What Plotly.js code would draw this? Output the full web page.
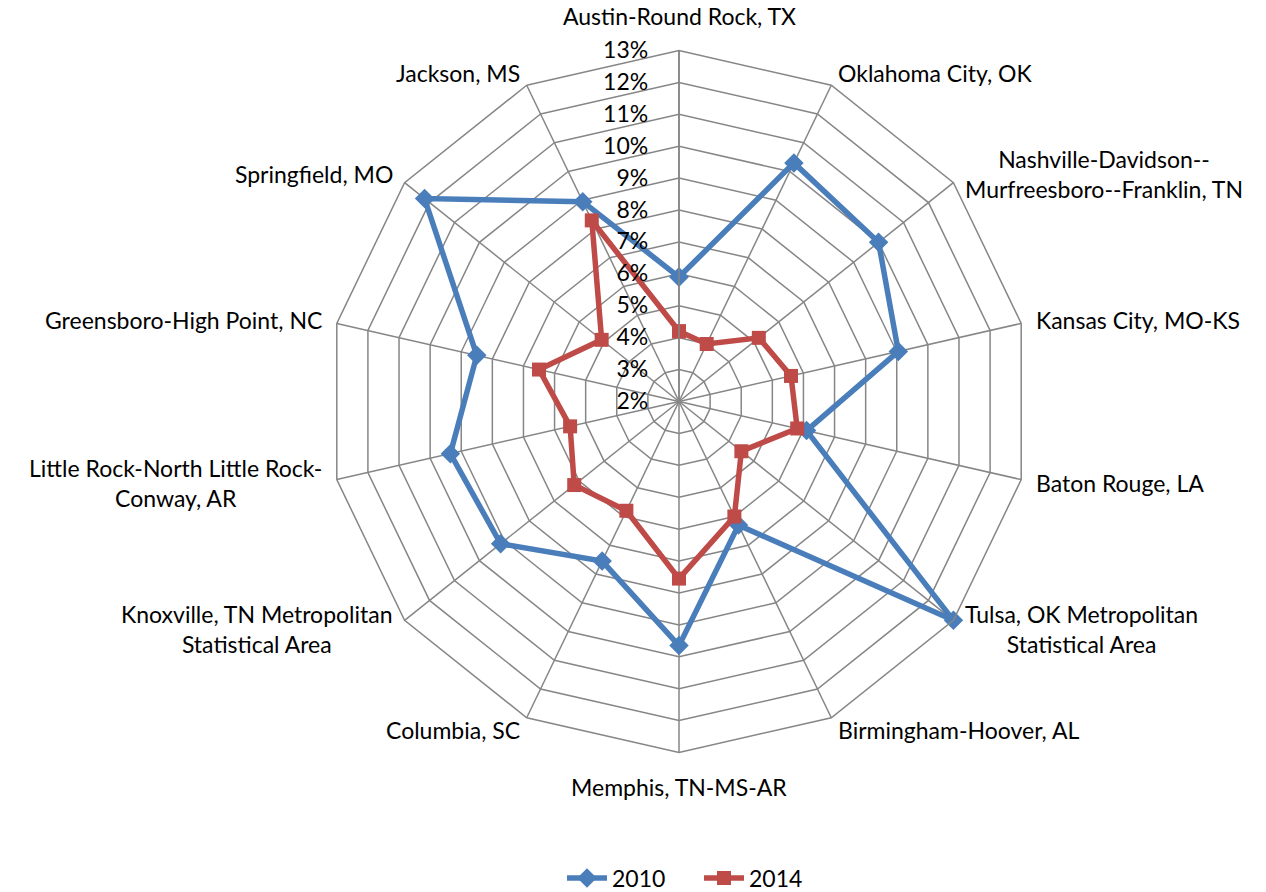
<!DOCTYPE html>
<html>
<head>
<meta charset="utf-8">
<script src="https://cdn.plot.ly/plotly-3.0.1.min.js"></script>
<style>html,body{margin:0;padding:0;background:#fff;}#chart{width:1266px;height:892px;}</style>
</head>
<body>
<div id="chart"></div>
<script>
const categories = [
  "Austin-Round Rock, TX",
  "Oklahoma City, OK",
  "Nashville-Davidson--<br>Murfreesboro--Franklin, TN",
  "Kansas City, MO-KS",
  "Baton Rouge, LA",
  "Tulsa, OK Metropolitan<br>Statistical Area",
  "Birmingham-Hoover, AL",
  "Memphis, TN-MS-AR",
  "Columbia, SC",
  "Knoxville, TN Metropolitan<br>Statistical Area",
  "Little Rock-North Little Rock-<br>Conway, AR",
  "Greensboro-High Point, NC",
  "Springfield, MO",
  "Jackson, MS"
];
const values2010 = [5.9, 10.3, 10.0, 9.05, 6.1, 13.0, 6.3, 9.65, 7.55, 9.15, 9.35, 8.5, 12.2, 8.95];
const values2014 = [4.2, 4.0, 5.2, 5.6, 5.8, 4.5, 6.0, 7.55, 5.8, 6.2, 5.5, 6.5, 5.1, 8.3];
const radialTicks = [2,3,4,5,6,7,8,9,10,11,12,13];
const radialTickText = radialTicks.map(v => v + "%");

const closeLoop = a => a.concat([a[0]]);

const W = 1266, H = 892;
// polar area geometry (pixels)
const CX = 679, CY = 401.5, R = 351;
const FONT = "Lato, 'Open Sans', sans-serif";
const FS = 23;

const traces = [
  {
    type: "scatterpolar",
    name: "2010",
    r: closeLoop(values2010),
    theta: closeLoop(categories),
    mode: "lines+markers",
    line: {color: "#4A7EBB", width: 5.5},
    marker: {symbol: "diamond", size: 15, color: "#4A7EBB"},
    cliponaxis: false
  },
  {
    type: "scatterpolar",
    name: "2014",
    r: closeLoop(values2014),
    theta: closeLoop(categories),
    mode: "lines+markers",
    line: {color: "#BE4B48", width: 5.5},
    marker: {symbol: "square", size: 14, color: "#BE4B48"},
    cliponaxis: false
  }
];

// category labels placed just outside each vertex of the polygon
const n = categories.length;
const annotations = categories.map((txt, i) => {
  const a = Math.PI / 2 - i * 2 * Math.PI / n;
  const c = Math.cos(a), s = Math.sin(a);
  const vertical = Math.abs(c) < 0.1;
  const g = vertical ? 19 : 14;
  const px = CX + (R + g) * c;
  const py = CY - (R + g) * s;
  return {
    text: txt,
    x: px / W,
    y: 1 - py / H,
    xref: "paper",
    yref: "paper",
    xanchor: vertical ? "center" : (c > 0 ? "left" : "right"),
    yanchor: vertical ? (s > 0 ? "bottom" : "top") : "middle",
    align: "center",
    showarrow: false,
    borderpad: 0,
    font: {family: FONT, size: FS, color: "#000"}
  };
});

const layout = {
  width: W,
  height: H,
  margin: {l: 0, r: 0, t: 0, b: 0, autoexpand: false},
  paper_bgcolor: "#fff",
  font: {family: FONT, size: FS, color: "#000"},
  showlegend: true,
  legend: {
    orientation: "h",
    x: 562 / W, xanchor: "left",
    y: 1 - 878 / H, yanchor: "middle",
    itemwidth: 40,
    entrywidth: 82, entrywidthmode: "pixels",
    font: {size: FS}
  },
  annotations: annotations,
  polar: {
    domain: {x: [(CX - R) / W, (CX + R) / W], y: [1 - (CY + R) / H, 1 - (CY - R) / H]},
    gridshape: "linear",
    bgcolor: "#fff",
    radialaxis: {
      range: [2, 13],
      tickvals: radialTicks,
      ticktext: radialTickText,
      angle: 90,
      tickangle: 90,
      side: "counterclockwise",
      showline: true,
      linecolor: "#868686",
      linewidth: 1.5,
      gridcolor: "#868686",
      gridwidth: 1.5,
      ticks: "outside",
      ticklen: 22,
      tickcolor: "rgba(0,0,0,0)",
      tickfont: {size: FS}
    },
    angularaxis: {
      categoryarray: categories,
      rotation: 90,
      direction: "clockwise",
      showline: true,
      showticklabels: false,
      linecolor: "#868686",
      linewidth: 1.5,
      gridcolor: "#868686",
      gridwidth: 1.5,
      ticks: ""
    }
  }
};

Plotly.newPlot("chart", traces, layout, {displayModeBar: false, staticPlot: true});
</script>
</body>
</html>
